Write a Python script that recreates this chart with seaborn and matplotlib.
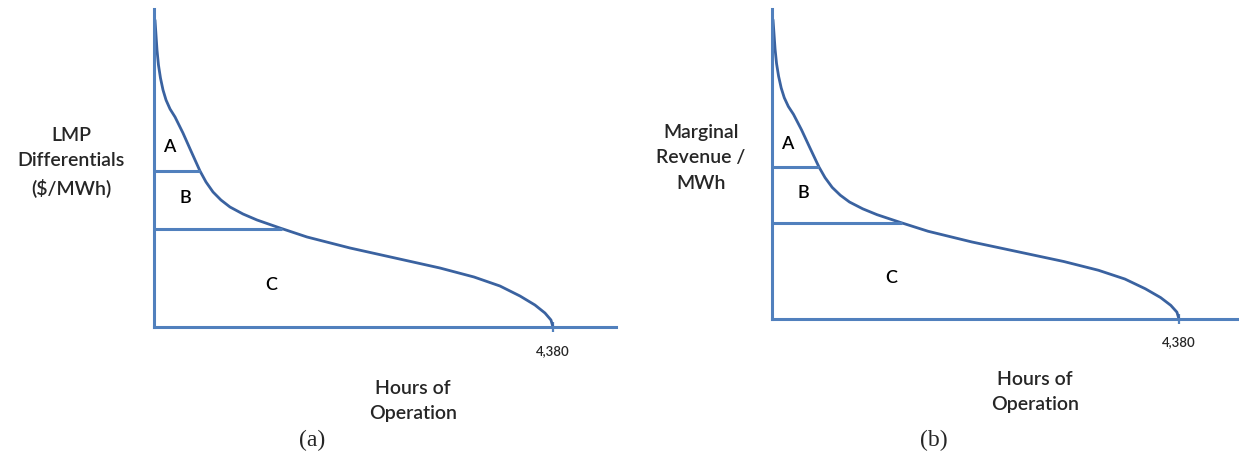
import numpy as np
import pandas as pd
import matplotlib
matplotlib.use("Agg")
import matplotlib.pyplot as plt
import seaborn as sns

# ---- data ----
hours = [11, 22, 33, 49, 71, 99, 132, 176, 231, 318, 406, 505, 571, 648, 735, 834, 977, 1131,
         1383, 1680, 2152, 2646, 3139, 3513, 3798, 4018, 4182, 4292, 4358, 4380]
value = [307, 292, 277, 262, 249, 237, 227, 218, 210, 194, 176, 156, 145, 135, 127, 120, 113, 107,
         99, 90, 79, 69, 59, 50, 41, 31, 22, 14, 7, 0]
band_levels = [156, 98]          # horizontal dividers (A/B and B/C)
band_ends = [505, 1400]          # where each divider meets the curve
region_labels = ["A", "B", "C"]
region_x = [165, 340, 1284]
region_y = [180, 129, 42]
tick_hours = [4380]
tick_labels = ["4,380"]
ylabels = ["LMP\nDifferentials\n($/MWh)", "Marginal\nRevenue /\nMWh"]
xlabel = "Hours of\nOperation"
captions = ["(a)", "(b)"]

sns.set_theme(style="white")
plt.rcParams["font.family"] = ["Lato", "DejaVu Sans"]

W, H = 1239, 476
fig = plt.figure(figsize=(W / 100, H / 100), dpi=100)

AXIS_C = "#5180bd"
CURVE_C = "#3a62a0"

def px(x, y):
    return x / W, 1 - y / H

def make_axes(left, top, right, bottom):
    return fig.add_axes([left / W, 1 - bottom / H, (right - left) / W, (bottom - top) / H])

df = pd.DataFrame({"hours": hours, "value": value})

panels = [
    dict(box=(154, 9, 616, 327), xmax=5072, ylab=(71, 162), xlab=(413, 401), cap=(312, 440), tl_pad=9.5),
    dict(box=(772, 9, 1239, 319), xmax=5026, ylab=(701, 158), xlab=(1035, 392), cap=(934, 440), tl_pad=8.5),
]

for i, p in enumerate(panels):
    ax = make_axes(*p["box"])
    sns.lineplot(data=df, x="hours", y="value", ax=ax, color=CURVE_C, lw=2.0,
                 sort=False, estimator=None)
    for line in ax.get_lines():
        line.set_clip_on(False)
        line.set_solid_joinstyle("round")
    ax.hlines(band_levels, 0, band_ends, color=AXIS_C, lw=2.2)
    for lab, x, y in zip(region_labels, region_x, region_y):
        ax.text(x, y, lab, ha="center", va="center", fontsize=13, fontweight="semibold",
                color="black")
    ax.set_xlim(0, p["xmax"])
    ax.set_ylim(0, 318)
    for s in ["top", "right"]:
        ax.spines[s].set_visible(False)
    for s in ["left", "bottom"]:
        ax.spines[s].set_color(AXIS_C)
        ax.spines[s].set_linewidth(2.2)
    ax.set_xticks(tick_hours)
    ax.set_xticklabels(tick_labels, fontsize=9.5, fontweight="semibold")
    ax.set_yticks([])
    ax.tick_params(axis="x", direction="inout", length=7, width=1.6, color=AXIS_C,
                   pad=p["tl_pad"], bottom=True)
    ax.set_xlabel("")
    ax.set_ylabel("")
    ax.set_facecolor("none")
    fig.text(*px(*p["ylab"]), ylabels[i], ha="center", va="center", fontsize=14,
             fontweight="semibold", linespacing=1.6, multialignment="center")
    fig.text(*px(*p["xlab"]), xlabel, ha="center", va="center", fontsize=14,
             fontweight="semibold", linespacing=1.6, multialignment="center")
    fig.text(*px(*p["cap"]), captions[i], ha="center", va="center", fontsize=17,
             family=["Liberation Serif", "DejaVu Serif"])

# cut-off line of running text at the very top (only descenders visible)
fig.text(*px(12, -5), "operation strategy and storage capacity", ha="left", va="baseline",
         fontsize=19, family=["Liberation Serif", "DejaVu Serif"])

fig.savefig("out.png", dpi=100)
